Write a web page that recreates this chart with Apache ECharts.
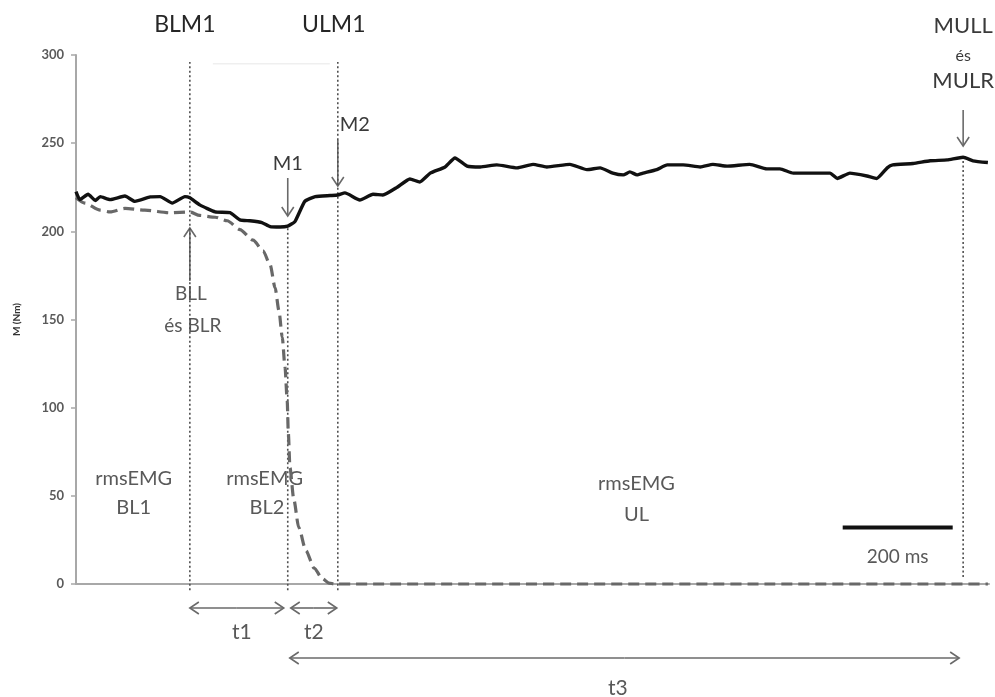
<!DOCTYPE html>
<html>
<head>
<meta charset="utf-8">
<script src="https://cdn.jsdelivr.net/npm/echarts@6/dist/echarts.min.js"></script>
<style>
  html, body { margin: 0; padding: 0; background: #fff; }
  #chart { width: 995px; height: 697px; }
</style>
</head>
<body>
<div id="chart"></div>
<script>
// Torque trace during the unloading trial (time in ms, torque in Nm)
const torqueTime = [0,7,22,35,44,62,89,107,135,153,175,198,207,225,253,280,298,316,338,353,
  371,385,398,416,435,462,476,489,516,540,558,584,607,625,644,671,689,711,735,765,
  802,831,856,898,929,953,976,995,1007,1020,1031,1056,1075,1104,1135,1158,1184,1225,1256,1280,
  1304,1340,1371,1384,1407,1438,1456,1475,1485,1522,1553,1584,1613,1631,1658];
const torqueValue = [222.5,218,221,217.5,219.7,218,220,217,219.5,219.7,216,219.7,219,215,211,210.6,206.5,206,205,202.7,
  202.5,203,205.5,217,219.7,220.3,220.6,221.8,217.8,221,220.6,225,229.7,228,233,236.5,241.6,237,236.5,237.7,
  236,238,236.5,238,235,236,233,232,233.7,232,233,235,237.7,237.7,236.5,238,237,238,235.4,235.4,
  233,233,233,230,233,231.4,230,236,237.7,238.5,240,240.5,242,240,239];

// Load released by the device (dashed trace)
const loadTime = [0,16,44,62,89,125,171,207,225,253,275,298,322,340,353,362,369,375,380,384,
  386,389,396,405,418,433,448,460,470,1658];
const loadValue = [219,216,212,211,213,212,210.5,211,209,208,206,201,195,189,181,168,155,140,123,104,
  86,66,48,32,19,9,3,0.5,0,0];

const yTicks = [0, 50, 100, 150, 200, 250, 300];

// Event markers (ms) and the torque span of their dotted guide lines (Nm)
const markerNames = ['BLM1', 'M1', 'ULM1', 'MULL'];
const markerTime = [207, 385, 476, 1613];
const markerTop = [296, 203, 296, 241];
const markerBottom = [-3.5, -3.5, -3.5, 4];

// Time scale bar
const scaleBarStart = 1394;
const scaleBarLength = 200;
const scaleBarLevel = 32;

const chart = echarts.init(document.getElementById('chart'));

const guideSeries = markerNames.map((name, i) => ({
  name: name,
  type: 'line',
  data: [[markerTime[i], markerBottom[i]], [markerTime[i], markerTop[i]]],
  symbol: 'none',
  clip: false,
  silent: true,
  lineStyle: { color: '#505050', width: 1.6, type: [2, 2.5] },
  z: 1
}));

chart.setOption({
  animation: false,
  backgroundColor: '#ffffff',
  grid: { left: 76, right: 6, top: 55, bottom: 113, containLabel: false },
  xAxis: {
    type: 'value', min: 0, max: 1660,
    axisLine: { show: true, lineStyle: { color: '#a8a8a8', width: 2 } },
    axisTick: { show: false }, axisLabel: { show: false }, splitLine: { show: false }
  },
  yAxis: {
    type: 'value', min: yTicks[0], max: yTicks[yTicks.length - 1], interval: 50,
    name: 'M (Nm)', nameLocation: 'middle', nameRotate: 90, nameGap: 54,
    nameTextStyle: { fontFamily: 'Lato', fontWeight: 'bold', fontSize: 10, color: '#333' },
    axisLine: { show: true, lineStyle: { color: '#a8a8a8', width: 2 } },
    axisTick: { show: true, length: 5, lineStyle: { color: '#a8a8a8', width: 1.5 } },
    axisLabel: { fontFamily: 'Lato', fontSize: 13, fontWeight: 'bold', color: '#5a5a5a', margin: 12 },
    splitLine: { show: false }
  },
  series: [
    ...guideSeries,
    {
      name: 'load', type: 'line',
      data: loadTime.map((t, i) => [t, loadValue[i]]),
      symbol: 'none', smooth: 0.25, smoothMonotone: 'x', clip: false,
      lineStyle: { color: '#686868', width: 3.2, type: [11, 6] },
      z: 3
    },
    {
      name: 'torque', type: 'line',
      data: torqueTime.map((t, i) => [t, torqueValue[i]]),
      symbol: 'none', smooth: 0.15,
      lineStyle: { color: '#111', width: 3.4 },
      z: 4
    },
    {
      name: 'scale', type: 'line',
      data: [[scaleBarStart, scaleBarLevel], [scaleBarStart + scaleBarLength, scaleBarLevel]],
      symbol: 'none',
      lineStyle: { color: '#111', width: 4 },
      z: 4
    }
  ]
});

// Annotation layer: labels, arrows and interval brackets placed from data coordinates
const px = (t, v) => chart.convertToPixel({ gridIndex: 0 }, [t, v]);
const xOf = t => px(t, 0)[0];
const yOf = v => px(0, v)[1];
const axisY = yOf(0);

const FONT = 'Lato, "Open Sans", sans-serif';
const graphics = [];

function text(str, x, y, size, color, weight) {
  graphics.push({
    type: 'text', silent: true,
    style: {
      text: str, x: x, y: y, fill: color,
      font: (weight || 'normal') + ' ' + size + 'px ' + FONT,
      align: 'center', verticalAlign: 'middle'
    }
  });
}

function head(x, y, dx, dy, color) {
  const len = 9, half = 6;
  const bx = x - dx * len, by = y - dy * len;
  const nx = -dy, ny = dx;
  graphics.push({
    type: 'polyline', silent: true,
    shape: { points: [[bx + nx * half, by + ny * half], [x, y], [bx - nx * half, by - ny * half]] },
    style: { stroke: color, lineWidth: 1.6, fill: null }
  });
}

function arrow(x1, y1, x2, y2, color) {
  graphics.push({
    type: 'line', silent: true,
    shape: { x1: x1, y1: y1, x2: x2, y2: y2 },
    style: { stroke: color, lineWidth: 1.6 }
  });
  const d = Math.hypot(x2 - x1, y2 - y1);
  head(x2, y2, (x2 - x1) / d, (y2 - y1) / d, color);
}

function bracket(x1, x2, y, color) {
  arrow((x1 + x2) / 2, y, x1, y, color);
  arrow((x1 + x2) / 2, y, x2, y, color);
}

const [tBLM1, tM1, tULM1, tMULL] = markerTime;
const arrowColor = '#6a6a6a';

// faint rule at the top of the loading window
graphics.push({
  type: 'line', silent: true,
  shape: { x1: xOf(tBLM1) + 23, y1: yOf(295), x2: xOf(tULM1) - 8, y2: yOf(295) },
  style: { stroke: '#efefef', lineWidth: 1.5 }
});

// event names above the plot
text('BLM1', xOf(tBLM1) - 5, 25, 23, '#262626');
text('ULM1', xOf(tULM1) - 4, 25, 23, '#262626');
text('MULL', xOf(tMULL), 26, 22, '#3a3a3a');
text('és', xOf(tMULL), 56, 16, '#3a3a3a');
text('MULR', xOf(tMULL), 81, 22, '#3a3a3a');
arrow(xOf(tMULL), 110, xOf(tMULL), 146, arrowColor);

// torque landmarks
text('M1', xOf(tM1), 164, 20, '#3a3a3a');
arrow(xOf(tM1), 178, xOf(tM1), 216, arrowColor);
text('M2', xOf(tULM1) + 17, 125, 20, '#3a3a3a');
arrow(xOf(tULM1), 140, xOf(tULM1), 186, arrowColor);

// baseline landmark
arrow(xOf(tBLM1), 281, xOf(tBLM1), 228, arrowColor);
text('BLL', xOf(tBLM1) + 1, 294, 19, '#595959');
text('és BLR', xOf(tBLM1) + 3, 326, 19, '#595959');

// EMG windows
text('rmsEMG', xOf(105), 479, 20, '#595959');
text('BL1', xOf(105), 508, 20, '#595959');
text('rmsEMG', xOf(343), 479, 20, '#595959');
text('BL2', xOf(347), 508, 20, '#595959');
text('rmsEMG', xOf(1019), 484, 20, '#595959');
text('UL', xOf(1019), 515, 20, '#595959');

// scale bar caption
text(scaleBarLength + ' ms', xOf(scaleBarStart + scaleBarLength / 2), 557, 19, '#595959');

// interval brackets below the axis
bracket(xOf(tBLM1), xOf(tM1) - 4, axisY + 24, arrowColor);
bracket(xOf(tM1) + 3, xOf(tULM1) - 1, axisY + 24, arrowColor);
bracket(xOf(tM1) + 2, xOf(tMULL) - 4, axisY + 74, arrowColor);
text('t1', xOf((tBLM1 + tM1) / 2) + 3, axisY + 48, 21, '#595959');
text('t2', xOf((tM1 + tULM1) / 2) + 1, axisY + 48, 21, '#595959');
text('t3', xOf(985), axisY + 104, 21, '#595959');

chart.setOption({ graphic: graphics });
</script>
</body>
</html>
